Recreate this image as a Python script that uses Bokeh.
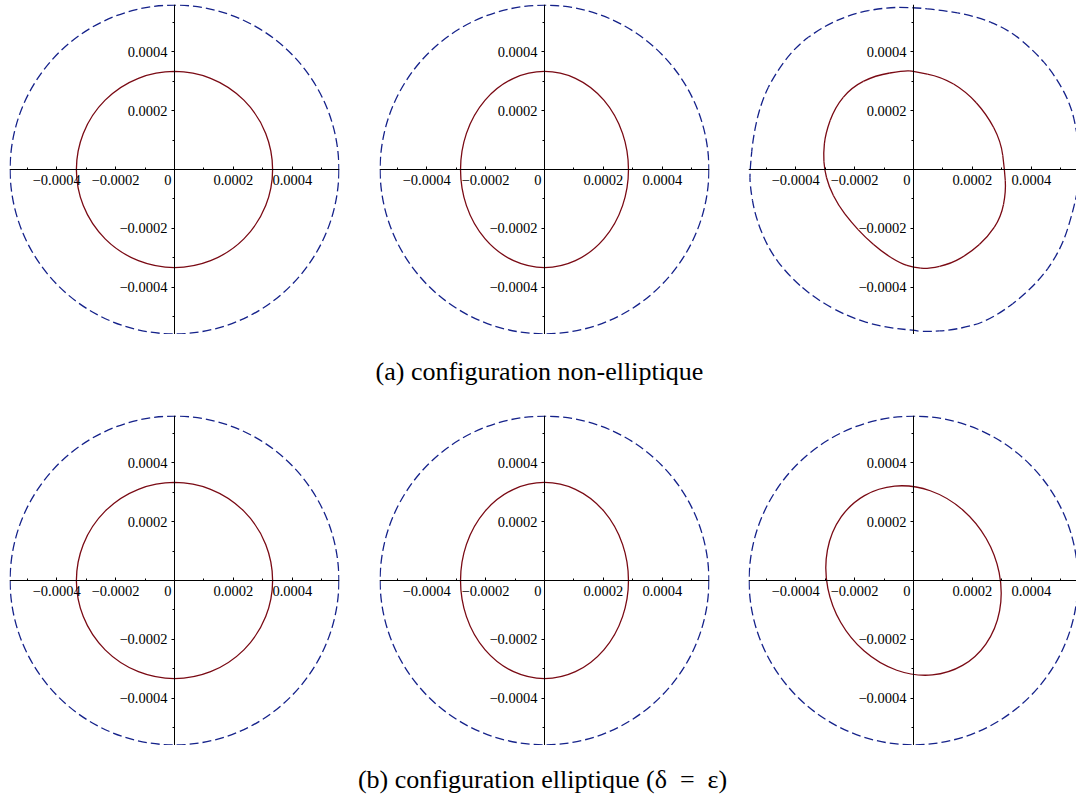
import math
from bokeh.plotting import figure
from bokeh.layouts import column, row
from bokeh.models import FixedTicker, Label, Range1d
from bokeh.core.properties import value
from bokeh.embed import file_html
from bokeh.resources import INLINE

# ---------------- data ----------------
view_half = 0.00056                      # axes run from -view_half to +view_half
major_ticks = [-0.0004, -0.0002, 0.0002, 0.0004]
minor_ticks = [-0.0005, -0.0003, -0.0001, 0.0001, 0.0003, 0.0005]
tick_labels = {-0.0004: "\u22120.0004", -0.0002: "\u22120.0002",
               0.0002: "0.0002", 0.0004: "0.0004"}
captions = ["(a) configuration non-elliptique",
            "(b) configuration elliptique (\u03b4\u2002=\u2002\u03b5)"]

# dashed (outer) circle radius and solid (inner) curves
outer_radius = 0.000558
inner_circle_radius = 0.000333
inner_ellipse_semi_x = 0.000285
inner_ellipse_semi_y = 0.000333
inner_ellipse_tilt_deg = 30.0

# non-elliptic panel (top right): closed curves read point by point
p3_outer_x = [0.00057, 0.000556, 0.000533, 0.000477, 0.000409, 0.000319, 0.000206,
              0.000093, 0.0, -0.000097, -0.00021, -0.000312, -0.000402, -0.00047,
              -0.000515, -0.000543, -0.000555, -0.000555, -0.000538, -0.000493,
              -0.000425, -0.000334, -0.000221, -0.000108, 0.0, 0.000037, 0.00014,
              0.000263, 0.00041, 0.0005, 0.000546]
p3_outer_y = [0.0, 0.000121, 0.000223, 0.000324, 0.000403, 0.000477, 0.000522,
              0.000541, 0.00055, 0.00055, 0.000528, 0.000482, 0.000415, 0.000324,
              0.000234, 0.000121, 0.0, -0.000054, -0.000156, -0.000269,
              -0.000359, -0.000438, -0.0005, -0.000534, -0.000546, -0.000551, -0.000545,
              -0.000512, -0.000399, -0.000275, -0.000128]
p3_inner_x = [0.000309, 0.000297, 0.000248, 0.000178, 0.000094, 0.0, -0.00003,
              -0.000131, -0.00021, -0.000267, -0.000299, -0.000306, -0.000302,
              -0.000288, -0.000255, -0.000211, -0.000165, -0.000108, -0.000045, 0.0,
              0.000049, 0.000128, 0.000195, 0.000252, 0.000297, 0.000314]
p3_inner_y = [0.0, 0.000095, 0.000188, 0.000265, 0.000315, 0.000333, 0.000336,
              0.000319, 0.000279, 0.000211, 0.000121, 0.000053, 0.0,
              -0.000056, -0.000122, -0.000179, -0.000229, -0.000279, -0.000318, -0.000333,
              -0.000337, -0.00032, -0.00028, -0.000229, -0.000162, -0.000075]

# ---------------- style ----------------
RED = "#7a0a14"
BLUE = "#15228a"
FONT = "Liberation Serif"
FRAME = 330
LW = 1.3
DASH_ON, DASH_OFF = 9, 4
DASH = f"{DASH_ON} {DASH_OFF}"
PX_PER_UNIT = FRAME / (2 * view_half)


def make_panel(left, right, frame_w, top):
    x_end = -view_half + 2 * view_half * frame_w / FRAME
    p = figure(width=left + frame_w + right, height=top + FRAME,
               x_range=Range1d(-view_half, x_end), y_range=Range1d(-view_half, view_half),
               min_border_left=left, min_border_right=right,
               min_border_top=top, min_border_bottom=0,
               output_backend="svg", toolbar_location=None,
               outline_line_color=None, background_fill_color="white")
    p.grid.visible = False
    p.xaxis.fixed_location = 0
    p.yaxis.fixed_location = 0
    for ax in (p.xaxis[0], p.yaxis[0]):
        ax.ticker = FixedTicker(ticks=major_ticks, minor_ticks=minor_ticks)
        ax.major_label_overrides = tick_labels
        ax.major_label_text_font = FONT
        ax.major_label_text_font_size = "14.5px"
        ax.major_label_text_color = "black"
        ax.axis_line_color = "black"
        ax.axis_line_width = 1
        ax.major_tick_line_color = "black"
        ax.minor_tick_line_color = "black"
    xa, ya = p.xaxis[0], p.yaxis[0]
    xa.major_tick_in, xa.major_tick_out = 3, 0
    xa.minor_tick_in, xa.minor_tick_out = 2, 0
    xa.major_label_standoff = 5
    ya.major_tick_in, ya.major_tick_out = 0, 3
    ya.minor_tick_in, ya.minor_tick_out = 0, 2
    ya.major_label_standoff = 4
    p.add_layout(Label(x=0, y=0, text="0", x_offset=-3, y_offset=-5,
                       text_align="right", text_baseline="top",
                       text_font=FONT, text_font_size="14.5px", text_color="black"))
    return p


def add_ellipse(p, sx, sy, angle, color, dash):
    p.ellipse(x=[0], y=[0], width=[2 * sx], height=[2 * sy], angle=[angle],
              angle_units="deg", fill_color=None, line_color=color,
              line_width=LW, line_dash=dash)


def add_closed_curve(p, xs, ys, color, dash):
    # smooth closed curve through the read points: one quadratic Bezier per
    # point (the point is the control point), joined at the midpoints;
    # the dash phase is carried from one piece to the next
    n = len(xs)
    x0, y0, x1, y1, offs = [], [], [], [], []
    period = DASH_ON + DASH_OFF
    run = 0.0
    for i in range(n):
        a, b = i - 1, (i + 1) % n
        sx0, sy0 = (xs[a] + xs[i]) / 2, (ys[a] + ys[i]) / 2
        sx1, sy1 = (xs[i] + xs[b]) / 2, (ys[i] + ys[b]) / 2
        x0.append(sx0); y0.append(sy0); x1.append(sx1); y1.append(sy1)
        offs.append(int(round(run)) % period)
        chord = math.hypot(sx1 - sx0, sy1 - sy0)
        poly = math.hypot(xs[i] - sx0, ys[i] - sy0) + math.hypot(sx1 - xs[i], sy1 - ys[i])
        run += (2 * chord + poly) / 3 * PX_PER_UNIT
    p.quadratic(x0=x0, y0=y0, x1=x1, y1=y1, cx=xs, cy=ys,
                line_color=color, line_width=LW, line_dash=dash,
                line_dash_offset=offs)


def make_caption(text, height, ycenter, xcenter):
    c = figure(width=1076, height=height, x_range=Range1d(0, 1076),
               y_range=Range1d(0, height), min_border=0,
               x_axis_type=None, y_axis_type=None,
               output_backend="svg", toolbar_location=None,
               outline_line_color=None)
    c.grid.visible = False
    c.text(x=[xcenter], y=[ycenter], text=[text], text_align="center",
           text_baseline="middle", text_font=value(FONT),
           text_font_size=value("26px"), text_color="black")
    return c


# row (a)
f1 = make_panel(9, 20, FRAME, 4)
add_ellipse(f1, outer_radius, outer_radius, 0, BLUE, DASH)
add_ellipse(f1, inner_circle_radius, inner_circle_radius, 0, RED, "solid")

f2 = make_panel(20, 19, FRAME, 4)
add_ellipse(f2, outer_radius, outer_radius, 0, BLUE, DASH)
add_ellipse(f2, inner_ellipse_semi_x, inner_ellipse_semi_y, 0, RED, "solid")

f3 = make_panel(20, 0, 328, 4)
add_closed_curve(f3, p3_outer_x, p3_outer_y, BLUE, DASH)
add_closed_curve(f3, p3_inner_x, p3_inner_y, RED, "solid")

# row (b)
f4 = make_panel(9, 20, FRAME, 10)
add_ellipse(f4, outer_radius, outer_radius, 0, BLUE, DASH)
add_ellipse(f4, inner_circle_radius, inner_circle_radius, 0, RED, "solid")

f5 = make_panel(20, 19, FRAME, 10)
add_ellipse(f5, outer_radius, outer_radius, 0, BLUE, DASH)
add_ellipse(f5, inner_ellipse_semi_x, inner_ellipse_semi_y, 0, RED, "solid")

f6 = make_panel(20, 0, 328, 10)
add_ellipse(f6, outer_radius, outer_radius, 0, BLUE, DASH)
add_ellipse(f6, inner_ellipse_semi_x, inner_ellipse_semi_y, inner_ellipse_tilt_deg, RED, "solid")

cap_a = make_caption(captions[0], 71, 34, 539)
cap_b = make_caption(captions[1], 50, 16, 542)

layout = column(row(f1, f2, f3), cap_a, row(f4, f5, f6), cap_b)

open("out.html", "w").write(file_html(layout, INLINE))
